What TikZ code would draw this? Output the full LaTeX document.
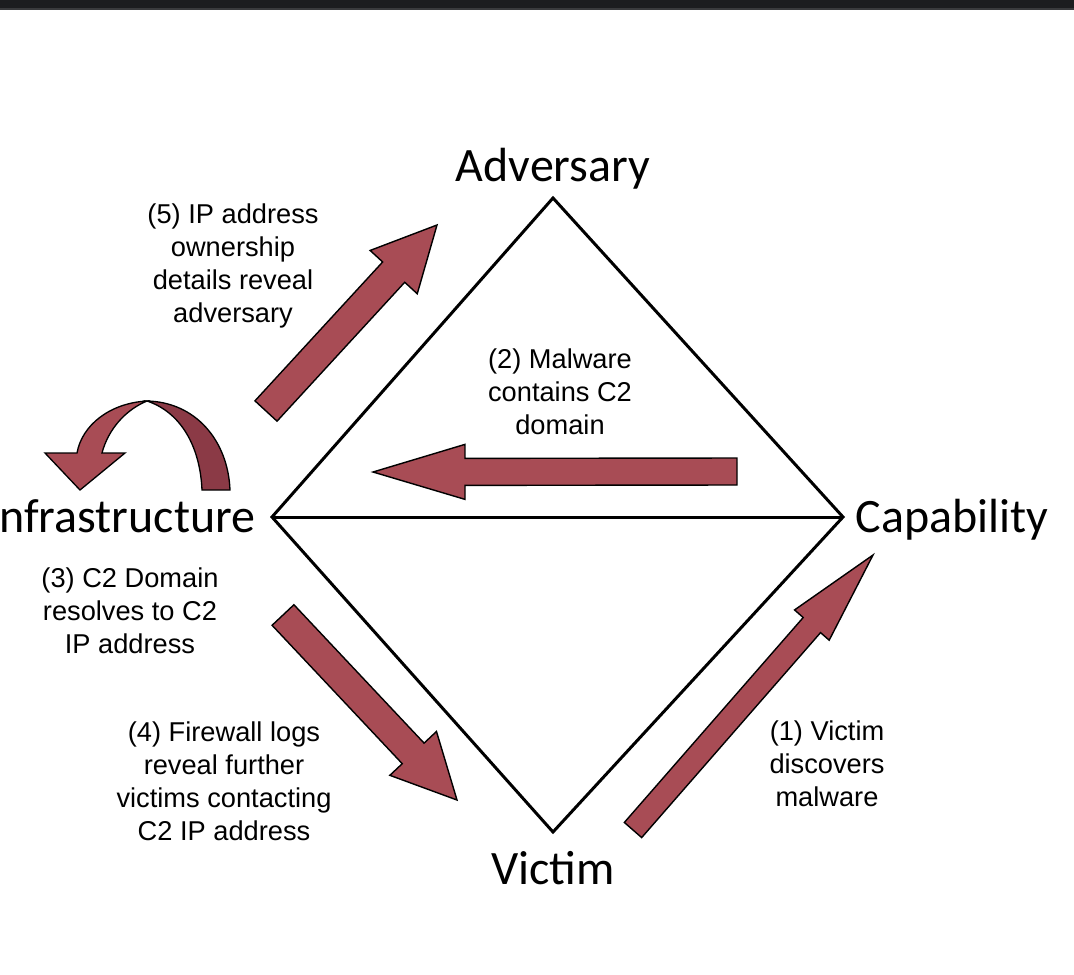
\documentclass[tikz,border=0pt]{standalone}
\usepackage{fontspec}
\setmainfont{Liberation Sans}
\newfontfamily\labelfont{Carlito}
\usetikzlibrary{calc,positioning}
\tikzset{every picture/.style={line width=0.75pt}}
\definecolor{arrowred}{HTML}{A84C55}
\definecolor{arrowdark}{HTML}{8B3A46}
\definecolor{topbar}{HTML}{1C1D1F}
\definecolor{topline}{HTML}{3A3B3D}
\tikzset{
  vertexlabel/.style={font=\labelfont\fontsize{27.3}{31}\selectfont, inner sep=0pt},
  steptext/.style={font=\fontsize{15.5}{18.7}\selectfont, align=center, inner sep=0pt},
  redarrow/.style={fill=arrowred, draw=black, line width=0.8pt, line join=miter},
  edgeline/.style={line width=1.7pt, line join=miter},
}
% 块状箭头: 起点, 终点, 半杆宽, 半头宽, 头长
\newcommand{\blockarrow}[5]{%
  \coordinate (hb) at ($(#2)!#5!(#1)$);
  \draw[redarrow] ($(#1)!#3!90:(#2)$) -- ($(hb)!#3!90:(#2)$) -- ($(hb)!#4!90:(#2)$)
    -- (#2) -- ($(hb)!#4!-90:(#2)$) -- ($(hb)!#3!-90:(#2)$) -- ($(#1)!#3!-90:(#2)$) -- cycle;
}

\begin{document}
\begin{tikzpicture}[x=0.02cm, y=-0.02cm]
    \useasboundingbox (0,0) rectangle (1074,974);
    \clip (0,0) rectangle (1074,974);

    % 顶部边条
    \fill[topbar] (0,0) rectangle (1074,8);
    \fill[topline] (0,8) rectangle (1074,10);

    % 菱形
    \coordinate (adv) at (553,198);
    \coordinate (infra) at (272,517);
    \coordinate (cap) at (843,517);
    \coordinate (vic) at (553,832);
    \draw[edgeline] (adv) -- (cap) -- (vic) -- (infra) -- cycle;
    \draw[edgeline] (infra) -- (cap);

    % 顶点标签
    \node[vertexlabel, anchor=base] (advlabel) at (553,181) {Adversary};
    \node[vertexlabel, anchor=base east] (infralabel) at (256,532) {Infrastructure};
    \node[vertexlabel, anchor=base west] (caplabel) at (855,532) {Capability};
    \node[vertexlabel, anchor=base] (viclabel) at (553,884) {Victim};

    % 箭头
    \coordinate (a1s) at (633,830);
    \coordinate (a1t) at (873,555);
    \coordinate (a2s) at (737,471.5);
    \coordinate (a2t) at (373,472);
    \coordinate (a4s) at (283,615);
    \coordinate (a4t) at (457,800);
    \coordinate (a5s) at (266,411);
    \coordinate (a5t) at (437,225);
    \blockarrow{a1s}{a1t}{0.23cm}{0.46cm}{1.86cm}
    \blockarrow{a2s}{a2t}{0.27cm}{0.55cm}{1.84cm}
    \blockarrow{a4s}{a4t}{0.3cm}{0.64cm}{1.28cm}
    \blockarrow{a5s}{a5t}{0.3cm}{0.64cm}{1.28cm}

    % 回转箭头
    \draw[fill=arrowdark, line join=miter] (147,401) .. controls (195,402) and (228,440) .. (230,490)
      -- (202,490) .. controls (200,445) and (180,412) .. (147,401) -- cycle;
    \draw[fill=arrowred, line join=miter] (147,401) .. controls (110,403) and (82,425) .. (77,453)
      -- (45,453) -- (80,490) -- (125,453) -- (102,453) .. controls (108,430) and (125,410) .. (147,401) -- cycle;

    % 步骤说明
    \node[steptext] (step1) at (827,764) {(1) Victim\\discovers\\malware};
    \node[steptext] (step2) at (560,392) {(2) Malware\\contains C2\\domain};
    \node[steptext] (step3) at (130,611) {(3) C2 Domain\\resolves to C2\\IP address};
    \node[steptext] (step4) at (224,781) {(4) Firewall logs\\reveal further\\victims contacting\\C2 IP address};
    \node[steptext] (step5) at (233,266) {(5) IP address\\ownership\\details reveal\\adversary};
\end{tikzpicture}
\end{document}
